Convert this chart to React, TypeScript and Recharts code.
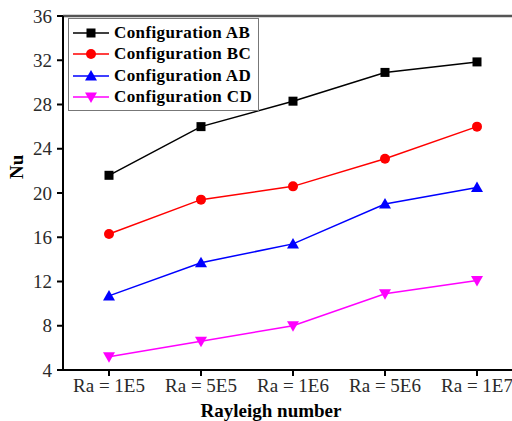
import { LineChart, Line, XAxis, YAxis, Legend, ReferenceLine } from "recharts";

const categories = ["Ra = 1E5", "Ra = 5E5", "Ra = 1E6", "Ra = 5E6", "Ra = 1E7"];
const configAB = [21.6, 26.0, 28.3, 30.9, 31.85];
const configBC = [16.3, 19.4, 20.6, 23.1, 26.0];
const configAD = [10.7, 13.7, 15.4, 19.0, 20.5];
const configCD = [5.2, 6.6, 8.0, 10.9, 12.1];
const yTicks = [4, 8, 12, 16, 20, 24, 28, 32, 36];

const data = categories.map((ra, i) => ({
  ra,
  AB: configAB[i],
  BC: configBC[i],
  AD: configAD[i],
  CD: configCD[i],
}));

const serif = "'Liberation Serif', 'Times New Roman', serif";

type Shape = "square" | "circle" | "up" | "down";

const series: { key: string; name: string; color: string; shape: Shape }[] = [
  { key: "AB", name: "Configuration AB", color: "#000000", shape: "square" },
  { key: "BC", name: "Configuration BC", color: "#ff0000", shape: "circle" },
  { key: "AD", name: "Configuration AD", color: "#0000ff", shape: "up" },
  { key: "CD", name: "Configuration CD", color: "#ff00ff", shape: "down" },
];

function marker(shape: Shape, cx: number, cy: number, color: string, key?: string) {
  if (shape === "square") {
    return <rect key={key} x={cx - 4.5} y={cy - 4.5} width={9} height={9} fill={color} />;
  }
  if (shape === "circle") {
    return <circle key={key} cx={cx} cy={cy} r={5} fill={color} />;
  }
  if (shape === "up") {
    return (
      <polygon
        key={key}
        points={`${cx},${cy - 6} ${cx - 6},${cy + 4.5} ${cx + 6},${cy + 4.5}`}
        fill={color}
      />
    );
  }
  return (
    <polygon
      key={key}
      points={`${cx},${cy + 6} ${cx - 6},${cy - 4.5} ${cx + 6},${cy - 4.5}`}
      fill={color}
    />
  );
}

function renderLegend() {
  return (
    <div
      style={{
        border: "1.5px solid #777",
        padding: "3px 6px 2px 3px",
        background: "#fff",
      }}
    >
      {series.map((s) => (
        <div key={s.key} style={{ display: "flex", alignItems: "center", height: 21.5 }}>
          <svg width={38} height={16} style={{ marginRight: 4 }}>
            <line x1={1} y1={8} x2={37} y2={8} stroke={s.color} strokeWidth={1.5} />
            {marker(s.shape, 19, 8, s.color)}
          </svg>
          <span
            style={{
              fontFamily: serif,
              fontWeight: "bold",
              fontSize: 17,
              letterSpacing: 0.4,
              color: "#000",
              whiteSpace: "nowrap",
            }}
          >
            {s.name}
          </span>
        </div>
      ))}
    </div>
  );
}

export default function App() {
  return (
    <div
      style={{
        position: "absolute",
        left: 0,
        top: 0,
        width: 512,
        height: 421,
        overflow: "hidden",
        background: "#fff",
      }}
    >
      <LineChart
        width={540}
        height={421}
        data={data}
        margin={{ top: 16, right: 17, bottom: 0, left: 0 }}
      >
        <XAxis
          dataKey="ra"
          padding={{ left: 46, right: 46 }}
          height={51}
          stroke="#000"
          strokeWidth={2}
          tickSize={6}
          tickMargin={3}
          tick={{ fill: "#2a2a2a", fontSize: 19, fontFamily: serif }}
          interval={0}
          label={{
            value: "Rayleigh number",
            position: "insideBottom",
            offset: 4,
            dx: -22,
            fill: "#000",
            fontSize: 19,
            fontWeight: "bold",
            fontFamily: serif,
          }}
        />
        <YAxis
          type="number"
          domain={[4, 36]}
          ticks={yTicks}
          width={63}
          stroke="#000"
          strokeWidth={2}
          tickSize={6}
          tickMargin={5}
          tick={{ fill: "#2a2a2a", fontSize: 19, fontFamily: serif }}
          label={{
            value: "Nu",
            angle: -90,
            position: "insideLeft",
            offset: 16,
            dy: -14,
            fill: "#000",
            fontSize: 19,
            fontWeight: "bold",
            fontFamily: serif,
          }}
        />
        <ReferenceLine y={36} stroke="#555" strokeWidth={2.5} ifOverflow="visible" />
        <Legend
          layout="vertical"
          align="center"
          verticalAlign="middle"
          content={renderLegend}
          wrapperStyle={{ left: 68, top: 18, width: "auto", height: "auto" }}
        />
        {series.map((s) => (
          <Line
            key={s.key}
            type="linear"
            dataKey={s.key}
            name={s.name}
            stroke={s.color}
            strokeWidth={1.5}
            isAnimationActive={false}
            dot={(p: any) => marker(s.shape, p.cx, p.cy, s.color, `${s.key}-${p.index}`)}
            activeDot={false}
          />
        ))}
      </LineChart>
    </div>
  );
}
